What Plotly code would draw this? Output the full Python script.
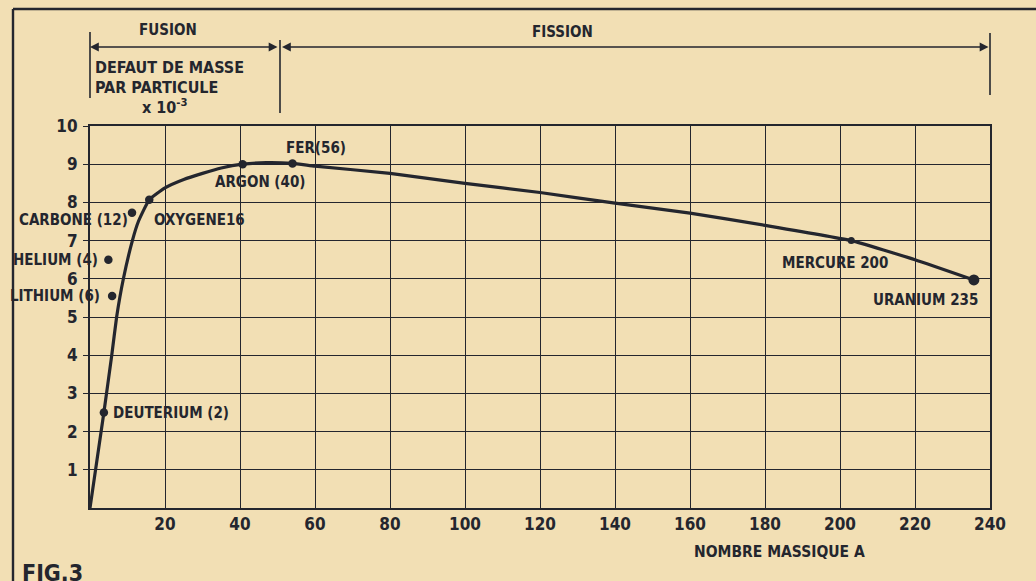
import plotly.graph_objects as go

# ── Données ───────────────────────────────────────────────────────────────────

# courbe : défaut de masse par particule (x 10^-3) selon le nombre massique A
A_COURBE = [0, 3.7, 5.8, 7.1, 8.9, 11.3, 12.9, 15.8, 20, 25, 30, 35, 40.7,
            47, 54, 60, 80, 100, 120, 140, 160, 180, 203, 220, 235.7]
D_COURBE = [0, 2.5, 4.0, 5.0, 6.0, 7.0, 7.5, 8.07, 8.38, 8.6, 8.76, 8.9, 9.0,
            9.04, 9.02, 8.95, 8.76, 8.5, 8.26, 7.98, 7.72, 7.4, 7.0, 6.5, 5.97]

# noyaux repérés
NOYAUX = ["DEUTERIUM (2)", "HELIUM (4)", "LITHIUM (6)", "CARBONE (12)", "OXYGENE16",
          "ARGON (40)", "FER(56)", "MERCURE 200", "URANIUM 235"]
A_NOYAUX = [3.7, 4.9, 5.9, 11.2, 15.8, 40.7, 54, 203, 235.7]
D_NOYAUX = [2.5, 6.5, 5.55, 7.73, 8.07, 9.0, 9.02, 7.0, 5.97]

X_TICKS = [20, 40, 60, 80, 100, 120, 140, 160, 180, 200, 220, 240]
Y_TICKS = [1, 2, 3, 4, 5, 6, 7, 8, 9, 10]

# bornes des domaines fusion / fission (en A)
FUSION = (0, 50.4)
FISSION = (51.2, 240)

# ── Style ─────────────────────────────────────────────────────────────────────

PAPIER = "#F2DFB4"
ENCRE = "#24262E"
POLICE = "DejaVu Sans Condensed, Liberation Sans, sans-serif"

W, H = 1036, 581
L, R, T, B = 90, 46, 126, 73

# placement des étiquettes : xanchor, décalage x, décalage y (pixels)
ETIQ = {
    "DEUTERIUM (2)": ("left", 7, 0),
    "HELIUM (4)": ("right", -8, 0),
    "LITHIUM (6)": ("right", -10, 0),
    "CARBONE (12)": ("right", -2, -7),
    "OXYGENE16": ("left", 3, -20),
    "ARGON (40)": ("center", 17, -18),
    "FER(56)": ("center", 23, 15),
    "MERCURE 200": ("right", 39, -22),
    "URANIUM 235": ("right", 6, -20),
}
TAILLE_POINT = {"URANIUM 235": 11, "MERCURE 200": 7}


def xp(px):
    return (px - L) / (W - L - R)


def yp(py):
    return (H - B - py) / (H - T - B)


fig = go.Figure()

fig.add_trace(go.Scatter(
    x=A_COURBE, y=D_COURBE, mode="lines",
    line=dict(color=ENCRE, width=3.2, shape="spline", smoothing=0.4),
    hoverinfo="skip", cliponaxis=False,
))
fig.add_trace(go.Scatter(
    x=A_NOYAUX, y=D_NOYAUX, mode="markers", text=NOYAUX,
    marker=dict(color=ENCRE, opacity=1, line=dict(width=0),
                size=[TAILLE_POINT.get(n, 8.5) for n in NOYAUX]),
    hovertemplate="%{text}<extra></extra>", cliponaxis=False,
))

annotations = []
for nom, a, d in zip(NOYAUX, A_NOYAUX, D_NOYAUX):
    anc, dx, dy = ETIQ[nom]
    annotations.append(dict(
        x=a, y=d, xref="x", yref="y", text=nom, showarrow=False,
        xanchor=anc, yanchor="middle", xshift=dx, yshift=dy,
        font=dict(family=POLICE, size=15, color=ENCRE, weight="bold"),
    ))

# flèches fusion / fission
for a0, a1 in (FUSION, FISSION):
    annotations.append(dict(
        x=a0, y=yp(47), xref="x", yref="paper", ax=a1, axref="x", ay=0, ayref="pixel",
        text="", showarrow=True, arrowside="end+start", arrowhead=2, startarrowhead=2,
        arrowsize=1.1, startarrowsize=1.1, arrowwidth=1.6, arrowcolor=ENCRE,
    ))

textes = [
    ("FUSION", xp(168), yp(30), "center", 15),
    ("FISSION", xp(562), yp(32), "center", 15),
    ("DEFAUT DE MASSE", xp(93), yp(67), "left", 16),
    ("PAR PARTICULE", xp(93), yp(87), "left", 16),
    ("x 10<sup>-3</sup>", xp(140), yp(107), "left", 16),
    ("NOMBRE MASSIQUE A", xp(779), yp(552), "center", 15.5),
    ("FIG.3", xp(20), yp(573), "left", 23),
]
for txt, x, y, anc, taille in textes:
    annotations.append(dict(
        x=x, y=y, xref="paper", yref="paper", text=txt, showarrow=False,
        xanchor=anc, yanchor="middle",
        font=dict(family=POLICE, size=taille, color=ENCRE, weight="bold"),
    ))

ligne = dict(color=ENCRE, width=1.6)
shapes = [
    # traits verticaux des bornes
    dict(type="line", xref="paper", yref="paper", x0=xp(90), x1=xp(90), y0=yp(32), y1=yp(98), line=ligne),
    dict(type="line", xref="paper", yref="paper", x0=xp(280), x1=xp(280), y0=yp(40), y1=yp(113), line=ligne),
    dict(type="line", xref="paper", yref="paper", x0=xp(990), x1=xp(990), y0=yp(33), y1=yp(95), line=ligne),
    # cadre extérieur
    dict(type="line", xref="paper", yref="paper", x0=xp(13), x1=xp(13), y0=yp(9), y1=yp(590),
         line=dict(color=ENCRE, width=2.4)),
    dict(type="line", xref="paper", yref="paper", x0=xp(13), x1=xp(1045), y0=yp(9), y1=yp(9),
         line=dict(color=ENCRE, width=2.4)),
]

fig.update_layout(
    width=W, height=H,
    margin=dict(l=L, r=R, t=T, b=B),
    paper_bgcolor=PAPIER, plot_bgcolor=PAPIER,
    showlegend=False,
    font=dict(family=POLICE, color=ENCRE, weight="bold"),
    annotations=annotations, shapes=shapes,
)
fig.update_xaxes(
    range=[0, 240], tickvals=X_TICKS, ticks="", showgrid=True,
    gridcolor=ENCRE, gridwidth=1.4, showline=True, linecolor=ENCRE, linewidth=2,
    mirror=True, zeroline=False, tickfont=dict(size=17, family=POLICE),
    ticklabelstandoff=0,
)
fig.update_yaxes(
    range=[0, 10], tickvals=Y_TICKS, ticks="outside", ticklen=5, tickwidth=1.4,
    tickcolor=ENCRE, showgrid=True, gridcolor=ENCRE, gridwidth=1.4,
    showline=True, linecolor=ENCRE, linewidth=2, mirror=True, zeroline=False,
    tickfont=dict(size=17, family=POLICE), ticklabelstandoff=2,
)

fig.write_html(
    "out.html",
    config={"displayModeBar": False},
    post_script="document.body.style.margin='0';document.body.style.background='%s';" % PAPIER,
)
